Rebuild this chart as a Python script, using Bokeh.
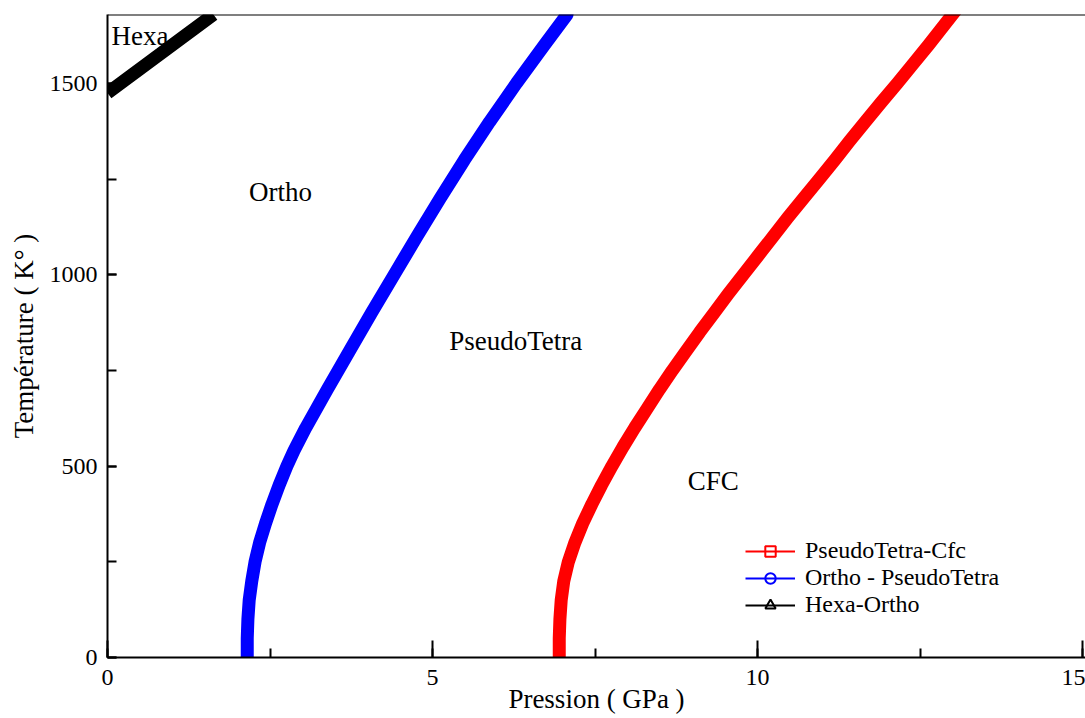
from bokeh.plotting import figure
from bokeh.models import (Range1d, Legend, LegendItem, Label, Span,
                          SingleIntervalTicker, ColumnDataSource)
from bokeh.embed import file_html
from bokeh.resources import INLINE

# ---- data ----
ortho_pt_t = [0, 50, 100, 150, 200, 250, 300, 350, 400, 450, 500, 541, 600, 700, 800,
              900, 1000, 1100, 1200, 1300, 1400, 1500, 1600, 1680]
ortho_pt_p = [2.15, 2.15, 2.16, 2.18, 2.22, 2.27, 2.34, 2.43, 2.53, 2.64, 2.76, 2.87, 3.05,
              3.38, 3.72, 4.06, 4.41, 4.76, 5.12, 5.49, 5.88, 6.29, 6.72, 7.07]

pt_cfc_t = [0, 50, 100, 150, 200, 250, 300, 350, 400, 450, 500, 550, 600, 650, 700, 750,
            800, 850, 900, 950, 1000, 1050, 1100, 1150, 1200, 1250, 1300, 1350, 1400,
            1450, 1500, 1550, 1600, 1680]
pt_cfc_p = [6.95, 6.95, 6.96, 6.98, 7.02, 7.09, 7.19, 7.31, 7.45, 7.60, 7.76, 7.93, 8.11,
            8.30, 8.49, 8.69, 8.90, 9.11, 9.33, 9.55, 9.78, 10.01, 10.24, 10.47, 10.71,
            10.95, 11.19, 11.42, 11.66, 11.90, 12.15, 12.39, 12.63, 13.00]

hexa_ortho_p = [0.0, 0.82, 1.63]
hexa_ortho_t = [1475, 1578, 1680]

phase_names = ["Hexa", "Ortho", "PseudoTetra", "CFC"]
phase_p = [0.5, 2.66, 6.28, 9.32]
phase_t = [1625, 1215, 828, 460]

series_names = ["PseudoTetra-Cfc", "Ortho - PseudoTetra", "Hexa-Ortho"]

FONT = "Liberation Serif"

p = figure(width=1085, height=718, x_range=Range1d(0, 15.046), y_range=Range1d(0, 1680),
           output_backend="svg", toolbar_location=None,
           min_border_left=107, min_border_top=14, min_border_bottom=61, min_border_right=0)
p.outline_line_color = None
p.xgrid.visible = False
p.ygrid.visible = False

# axes
p.xaxis.ticker = SingleIntervalTicker(interval=5, num_minor_ticks=2)
p.yaxis.ticker = SingleIntervalTicker(interval=500, num_minor_ticks=2)
for ax in (p.xaxis[0], p.yaxis[0]):
    ax.axis_line_width = 2
    ax.axis_line_color = "black"
    ax.major_tick_line_width = 2
    ax.minor_tick_line_width = 2
    ax.major_tick_out = 0
    ax.minor_tick_out = 0
    ax.major_label_text_font = FONT
    ax.major_label_text_font_size = "24px"
    ax.major_label_text_color = "black"
    ax.axis_label_text_font = FONT
    ax.axis_label_text_font_size = "27px"
    ax.axis_label_text_font_style = "normal"
    ax.axis_label_text_color = "black"
p.xaxis.major_tick_in = 17
p.xaxis.minor_tick_in = 9
p.yaxis.major_tick_in = 9
p.yaxis.minor_tick_in = 9
p.xaxis.major_label_standoff = 12
p.yaxis.major_label_standoff = 10
p.xaxis.axis_label = "Pression ( GPa )"
p.yaxis.axis_label = "Température ( K° )"
p.xaxis.axis_label_standoff = -4
p.yaxis.axis_label_standoff = 8

p.add_layout(Span(location=1680, dimension="width", line_color="black", line_width=2))

# curves
p.line(pt_cfc_p, pt_cfc_t, line_color="#ff0000", line_width=13, line_cap="square",
       line_join="round")
p.line(ortho_pt_p, ortho_pt_t, line_color="#0000ff", line_width=13, line_cap="round",
       line_join="round")
p.line(hexa_ortho_p, hexa_ortho_t, line_color="black", line_width=13, line_cap="butt")

# phase labels
for name, x, y in zip(phase_names, phase_p, phase_t):
    p.add_layout(Label(x=x, y=y, text=name, text_font=FONT, text_font_size="27px",
                       text_align="center", text_baseline="middle", text_color="black"))

# legend-only renderers (a single NaN point, so nothing is drawn in the plot)
nan = float("nan")
colors = ["#ff0000", "#0000ff", "black"]
markers = ["square", "circle", "triangle"]
items = []
for name, c, m in zip(series_names, colors, markers):
    src = ColumnDataSource(data=dict(x=[nan], y=[nan]))
    l = p.line("x", "y", source=src, line_color=c, line_width=2)
    s = p.scatter("x", "y", source=src, marker=m, size=10, line_color=c,
                  fill_color=None, line_width=2)
    items.append(LegendItem(label=name, renderers=[l, s]))

legend = Legend(items=items, location=(638, 39), padding=0, margin=0, spacing=0,
                glyph_width=50, glyph_height=26, label_height=26, label_standoff=10,
                label_text_font=FONT, label_text_font_size="24px",
                label_text_color="black",
                border_line_color=None, background_fill_alpha=0)
p.add_layout(legend)

open("out.html", "w").write(file_html(p, INLINE))
